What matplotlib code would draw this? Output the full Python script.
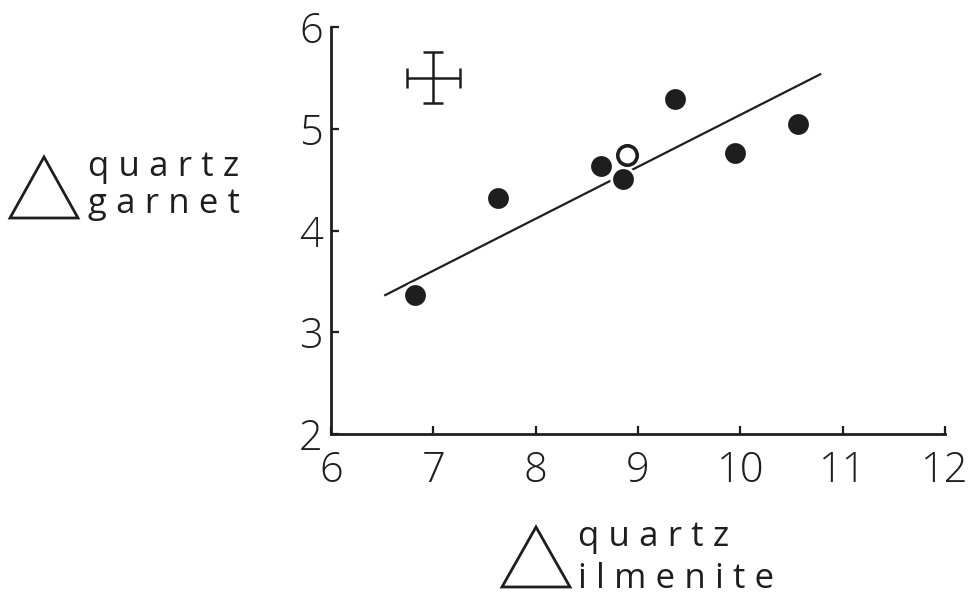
import matplotlib
matplotlib.use("Agg")
import matplotlib.pyplot as plt
from matplotlib.patches import Polygon

plt.rcParams['font.family'] = ['Open Sans', 'DejaVu Sans']

# Fractionation data: Δ quartz-ilmenite (x) vs Δ quartz-garnet (y)
x_filled = [6.82, 7.63, 8.64, 8.85, 9.36, 9.95, 10.56]
y_filled = [3.37, 4.32, 4.63, 4.51, 5.29, 4.76, 5.05]
x_open = [8.89]
y_open = [4.74]

# Regression line end points
line_x = [6.52, 10.79]
line_y = [3.36, 5.54]

# Representative analytical uncertainty
err_x, err_y = [7.0], [5.5]
err_dx, err_dy = [0.26], [0.25]

x_ticks = [6, 7, 8, 9, 10, 11, 12]
y_ticks = [2, 3, 4, 5, 6]

W, H = 974, 600
fig = plt.figure(figsize=(W / 100, H / 100), dpi=100)
ax = fig.add_axes([331 / W, (H - 434) / H, (945 - 331) / W, (434 - 27) / H])

ink = '#1e1e1e'
ax.plot(line_x, line_y, color=ink, lw=1.6, zorder=1, solid_capstyle='butt')
ax.plot(x_filled, y_filled, 'o', ms=17, mfc=ink, mec='white', mew=2.0,
        zorder=3, clip_on=False)
ax.plot(x_open, y_open, 'o', ms=14, mfc='white', mec=ink, mew=2.6,
        zorder=4, clip_on=False)
ax.errorbar(err_x, err_y, xerr=err_dx, yerr=err_dy, fmt='none', ecolor=ink,
            elinewidth=1.8, capsize=7, capthick=1.8)

ax.set_xlim(6, 12)
ax.set_ylim(2, 6)
ax.set_xticks(x_ticks)
ax.set_yticks(y_ticks)
ax.tick_params(direction='in', length=6, width=1.6, colors=ink,
               labelsize=30)
ax.tick_params(axis='x', pad=11)
ax.tick_params(axis='y', pad=6)
for lab in ax.get_xticklabels() + ax.get_yticklabels():
    lab.set_fontweight('light')

for side in ('top', 'right'):
    ax.spines[side].set_visible(False)
for side in ('left', 'bottom'):
    ax.spines[side].set_linewidth(2.0)
    ax.spines[side].set_color(ink)


def px(xp, yp):
    return (xp / W, 1 - yp / H)


def delta(x0, x1, ytop, ybot):
    tri = Polygon([px(x0, ybot), px(x1, ybot), px((x0 + x1) / 2, ytop)],
                  closed=True, fill=False, edgecolor=ink, lw=2.0,
                  transform=fig.transFigure, joinstyle='miter')
    fig.add_artist(tri)


def spaced(word):
    # open up the letter spacing of an axis-label word
    return '\u2009\u200a'.join(word)


label_kw = dict(fontsize=25, color=ink, ha='left', va='baseline',
                fontweight='normal')

# y-axis label
delta(10, 78, 157, 218)
fig.text(*px(88, 176), spaced('quartz'), **label_kw)
fig.text(*px(88, 213), spaced('garnet'), **label_kw)

# x-axis label
delta(502, 570, 527, 587)
fig.text(*px(578, 546), spaced('quartz'), **label_kw)
fig.text(*px(578, 588), spaced('ilmenite'), **label_kw)

fig.savefig('out.png', dpi=100, facecolor='white')
